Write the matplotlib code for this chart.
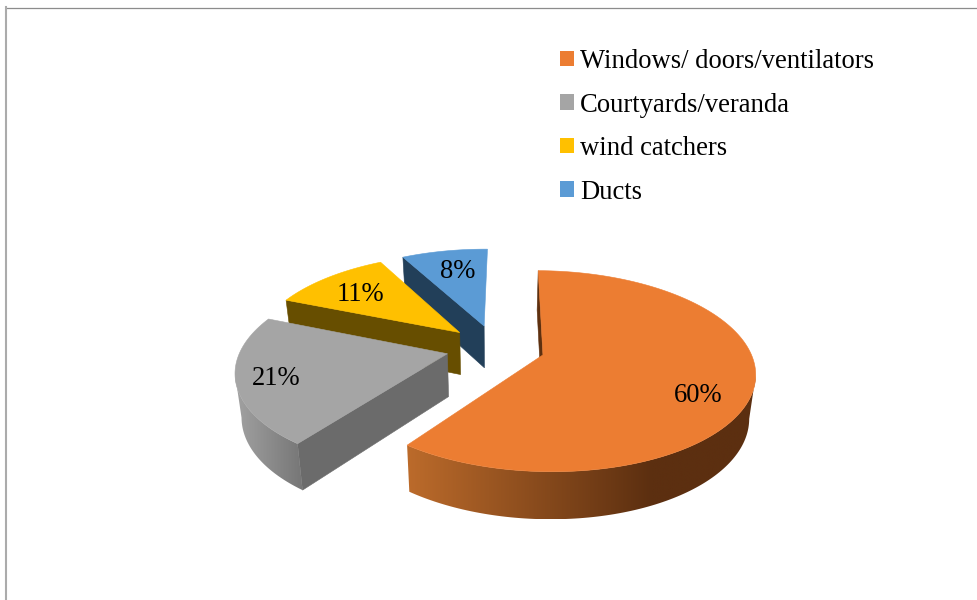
import numpy as np
import matplotlib
matplotlib.use("Agg")
import matplotlib.pyplot as plt
from matplotlib.colors import to_rgb
from matplotlib.lines import Line2D
from matplotlib.patches import Patch, Polygon

# Chart data
categories = ["Windows/ doors/ventilators", "Courtyards/veranda", "wind catchers", "Ducts"]
shares = [60, 21, 11, 8]
top_colors = ["#EC7D32", "#A5A5A5", "#FFC000", "#5B9BD5"]
cut_colors = ["#5E300F", "#6B6B6B", "#674E00", "#223F59"]
# Lit and shaded end of the curved outer wall, left to right
wall_left = ["#BC6B2B", "#A2A2A2", None, None]
wall_right = ["#5C2F10", "#767676", None, None]
# Share of the wall's width over which the shade changes
wall_ramp = [0.7, 1.0, None, None]
label_nudge = [(3, 17), (-18, 5), (0, 3), (4, 2)]

# Pie projection settings, in pixels
CX, CY = 495.5, 347.5
FX, FY = 206.0, 95.5
PERSPECTIVE = 0.16
EXPLODE = 0.24
FIRST_SLICE_ANGLE = np.radians(0.6)
DEPTH = 41.5
DEPTH_GROWTH = 0.04
BASE_SHRINK = 0.975


def project(u, v):
    s = 1.0 / (1.0 - PERSPECTIVE * v)
    return CX + FX * u * s, CY + FY * v * s


def lower(x, y):
    return CX + (x - CX) * BASE_SHRINK, y + DEPTH + DEPTH_GROWTH * (y - 320)


def slice_points(theta, mid, radius=1.0):
    # Angles run clockwise from twelve o'clock
    u = radius * np.sin(theta) + EXPLODE * np.sin(mid)
    v = -radius * np.cos(theta) - EXPLODE * np.cos(mid)
    return project(u, v)


def wall_outline(x, y, xb, yb, mid):
    # Keep only the part of the wall facing the viewer, ending at the side silhouette
    if np.sin(mid) > 0:
        top = np.column_stack([x, y])[np.argmax(x):]
        bottom = np.column_stack([xb, yb])[np.argmax(xb):]
    else:
        top = np.column_stack([x, y])[:np.argmin(x) + 1]
        bottom = np.column_stack([xb, yb])[:np.argmin(xb) + 1]
    return np.vstack([top, bottom[::-1]])


fig = plt.figure(figsize=(9.77, 6.0), dpi=100, facecolor="white")
ax = fig.add_axes([0, 0, 1, 1])

# Chart area border, cropped on the right and at the bottom
ax.add_line(Line2D([6, 977], [7.5, 7.5], color="#8C8C8C", lw=0.9, zorder=1))
ax.add_line(Line2D([6, 6], [7, 600], color="#ABABAB", lw=1.5, zorder=1))

fractions = np.array(shares, dtype=float) / sum(shares)
edges = np.concatenate([[0.0], np.cumsum(fractions)]) * 2 * np.pi + FIRST_SLICE_ANGLE
mids = (edges[:-1] + edges[1:]) / 2

# Painted back to front so nearer slices overlap farther ones
draw_order = [3, 2, 1, 0]

for z, i in enumerate(draw_order):
    base_z = 10 + 5 * z
    t0, t1 = edges[i], edges[i + 1]
    mid = mids[i]
    theta = np.linspace(t0, t1, 200)
    x, y = slice_points(theta, mid)
    xb, yb = lower(x, y)
    ax_, ay_ = slice_points(np.array([0.0]), mid, radius=0.0)
    axb, ayb = lower(ax_, ay_)

    # Flat cut face running from the apex to the arc
    ax.add_patch(Polygon([(ax_[0], ay_[0]), (x[0], y[0]), (xb[0], yb[0]), (axb[0], ayb[0])],
                         closed=True, facecolor=cut_colors[i], edgecolor=cut_colors[i],
                         lw=0.4, zorder=base_z))

    # Curved outer wall: a horizontal colour ramp clipped to the wall outline
    if wall_left[i] is not None:
        wall = Polygon(wall_outline(x, y, xb, yb, mid), closed=True,
                       facecolor="none", edgecolor="none", transform=ax.transData)
        ax.add_patch(wall)
        ramp_t = np.clip(np.linspace(0, 1, 512) / wall_ramp[i], 0, 1)[None, :, None]
        c0 = np.array(to_rgb(wall_left[i]))[None, None, :]
        c1 = np.array(to_rgb(wall_right[i]))[None, None, :]
        xmin = min(x.min(), xb.min())
        xmax = max(x.max(), xb.max())
        img = ax.imshow((1 - ramp_t) * c0 + ramp_t * c1, aspect="auto", interpolation="bilinear",
                        extent=(xmin, xmax, max(yb.max(), y.max()), min(y.min(), yb.min())),
                        origin="upper", zorder=base_z + 1)
        img.set_clip_path(wall)

    # Flat top of the slice
    outline = np.column_stack([np.r_[ax_, x], np.r_[ay_, y]])
    ax.add_patch(Polygon(outline, closed=True, facecolor=top_colors[i], edgecolor=top_colors[i],
                         lw=0.4, zorder=base_z + 2))

# Value labels placed on the slice tops
for i, share in enumerate(shares):
    lx, ly = slice_points(np.array([mids[i]]), mids[i], radius=0.73)
    dx, dy = label_nudge[i]
    ax.text(lx[0] + dx, ly[0] + dy, f"{share}%", ha="center", va="center",
            family="Liberation Serif", fontsize=19.2, color="black", zorder=60)

handles = [Patch(facecolor=c, edgecolor="none") for c in top_colors]
ax.legend(handles, categories, loc="upper left", bbox_to_anchor=(560 / 977, 1 - 49 / 600),
          frameon=False, prop={"family": "Liberation Serif", "size": 19.2},
          handlelength=0.53, handleheight=0.53, handletextpad=0.22,
          labelspacing=0.695, borderpad=0, borderaxespad=0)

ax.set_xlim(0, 977)
ax.set_ylim(600, 0)
ax.axis("off")

fig.savefig("out.png", dpi=100, facecolor="white")
